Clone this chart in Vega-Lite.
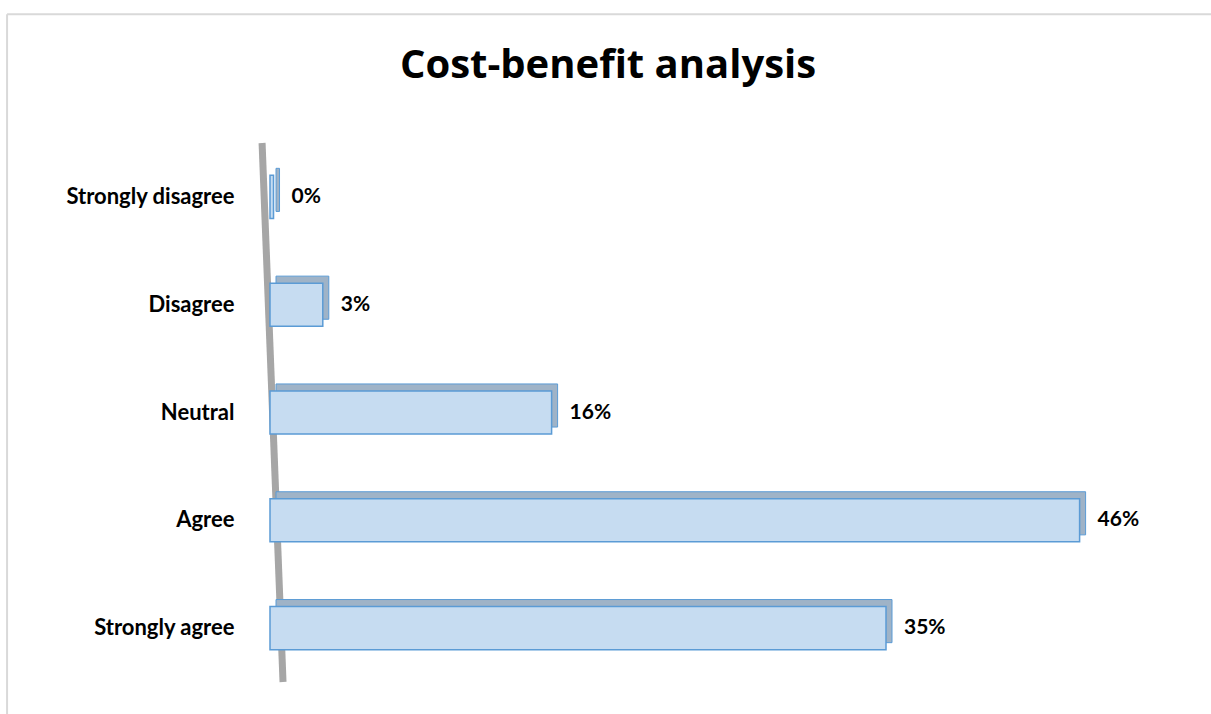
{
  "$schema": "https://vega.github.io/schema/vega-lite/v6.json",
  "autosize": "none",
  "width": 880,
  "height": 539,
  "padding": {"left": 270, "top": 143, "right": 61, "bottom": 32},
  "background": "white",
  "config": {"view": {"stroke": null}, "font": "Lato"},
  "title": {
    "text": "Cost-benefit analysis",
    "font": "Open Sans",
    "fontSize": 40,
    "fontWeight": "bold",
    "color": "#000000",
    "anchor": "middle",
    "frame": "group",
    "dx": -102,
    "offset": -73
  },
  "data": {
    "values": [
      {"category": "Strongly disagree", "share": 0.002},
      {"category": "Disagree", "share": 0.03},
      {"category": "Neutral", "share": 0.16},
      {"category": "Agree", "share": 0.46},
      {"category": "Strongly agree", "share": 0.35}
    ]
  },
  "resolve": {"scale": {"y": "independent"}},
  "layer": [
    {
      "data": {"values": [
        {"x1": -0.1494, "x2": 0.5347, "y1": 1.239, "y2": 1.239},
        {"x1": -0.1494, "x2": -0.1494, "y1": 1.239, "y2": -0.06}
      ]},
      "mark": {"type": "rule", "color": "#d9d9d9", "strokeWidth": 2, "clip": false},
      "encoding": {
        "x": {"field": "x1", "type": "quantitative", "scale": {"domain": [0, 0.5]}},
        "x2": {"field": "x2"},
        "y": {"field": "y1", "type": "quantitative", "scale": {"domain": [0, 1]}, "axis": null},
        "y2": {"field": "y2"}
      }
    },
    {
      "data": {"values": [{"t": 0, "b": 1}]},
      "mark": {"type": "rule", "color": "#a6a6a6", "strokeWidth": 7},
      "encoding": {
        "x": {"datum": -0.0045, "type": "quantitative", "scale": {"domain": [0, 0.5]}},
        "x2": {"datum": 0.0074},
        "y": {"datum": 1, "type": "quantitative", "scale": {"domain": [0, 1]}, "axis": null},
        "y2": {"datum": 0}
      }
    },
    {
      "layer": [
        {
          "mark": {"type": "bar", "fill": "#9fb3c7", "stroke": "#5b9bd5", "strokeWidth": 1, "xOffset": 6, "yOffset": -7},
          "encoding": {
            "y": {"field": "category", "type": "nominal", "sort": null,
                  "scale": {"paddingInner": 0.6, "paddingOuter": 0.3},
                  "axis": {"title": null, "domain": false, "ticks": false, "labelFont": "Lato", "labelFontSize": 22, "labelFontWeight": "bold", "labelColor": "#000000", "labelPadding": 36}},
            "x": {"field": "share", "type": "quantitative", "scale": {"domain": [0, 0.5]}, "axis": null}
          }
        },
        {
          "mark": {"type": "bar", "fill": "#c6dcf1", "stroke": "#5b9bd5", "strokeWidth": 1.5},
          "encoding": {
            "y": {"field": "category", "type": "nominal", "sort": null},
            "x": {"field": "share", "type": "quantitative"}
          }
        },
        {
          "mark": {"type": "text", "align": "left", "baseline": "middle", "dx": 18, "font": "Lato", "fontSize": 21, "fontWeight": "bold", "color": "#000000"},
          "encoding": {
            "y": {"field": "category", "type": "nominal", "sort": null},
            "x": {"field": "share", "type": "quantitative"},
            "text": {"field": "share", "type": "quantitative", "format": ".0%"}
          }
        }
      ]
    }
  ]
}
